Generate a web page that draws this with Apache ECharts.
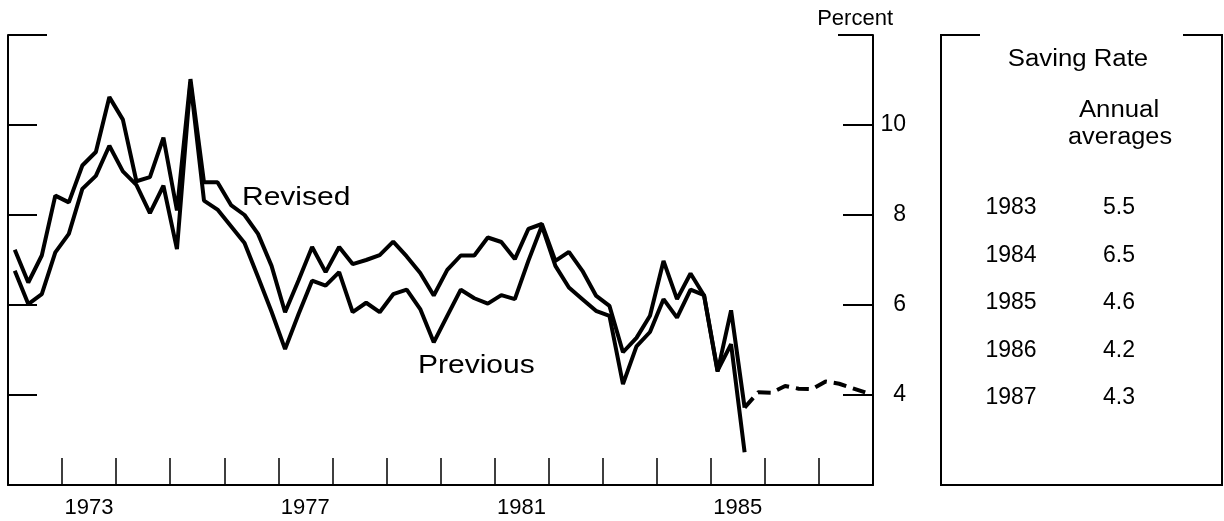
<!DOCTYPE html>
<html>
<head>
<meta charset="utf-8">
<title>Saving Rate</title>
<script src="https://cdn.jsdelivr.net/npm/echarts@6/dist/echarts.min.js"></script>
<style>
  html, body { margin: 0; padding: 0; background: #fff; }
  #chart { width: 1224px; height: 521px; }
</style>
</head>
<body>
<div id="chart"></div>
<script>
// year bands on the bottom axis, labels only on some of them
const years = ['1972', '1973', '1974', '1975', '1976', '1977', '1978', '1979',
  '1980', '1981', '1982', '1983', '1984', '1985', '1986', '1987']
const labeledYears = ['1973', '1977', '1981', '1985']

// quarterly, 1972Q1 .. 1985Q3
const revised = [
  7.23, 6.50, 7.10, 8.43, 8.28, 9.10, 9.40, 10.62,
  10.12, 8.75, 8.84, 9.72, 8.10, 11.02, 8.73, 8.73,
  8.22, 8.00, 7.58, 6.87, 5.84, 6.55, 7.29, 6.73,
  7.29, 6.91, 7.00, 7.11, 7.41, 7.08, 6.71, 6.21,
  6.78, 7.10, 7.10, 7.50, 7.40, 7.02, 7.69, 7.80,
  6.98, 7.18, 6.76, 6.21, 5.98, 4.95, 5.27, 5.76,
  6.98, 6.13, 6.70, 6.21, 4.52, 5.88, 3.72
]
const previous = [
  6.76, 6.02, 6.24, 7.17, 7.58, 8.58, 8.87, 9.54,
  8.97, 8.67, 8.04, 8.65, 7.24, 10.95, 8.32, 8.12,
  7.75, 7.38, 6.62, 5.85, 5.02, 5.80, 6.54, 6.43,
  6.73, 5.84, 6.05, 5.84, 6.24, 6.34, 5.91, 5.17,
  5.76, 6.34, 6.15, 6.03, 6.22, 6.13, 6.98, 7.76,
  6.87, 6.39, 6.13, 5.87, 5.76, 4.24, 5.08, 5.40,
  6.13, 5.72, 6.34, 6.22, 4.54, 5.13, 2.73
]
// projection, 1985Q4 .. 1987Q4 (dashed)
const projected = [4.06, 4.05, 4.20, 4.14, 4.13, 4.30, 4.25, 4.15, 4.05]

const yTicks = [4, 6, 8, 10]

// side table
const tableYears = ['1983', '1984', '1985', '1986', '1987']
const tableValues = ['5.5', '6.5', '4.6', '4.2', '4.3']

const font = 'Liberation Sans, Arial, Helvetica, sans-serif'

// quarter categories, points sit in the middle of each quarter
let quarters = []
years.forEach(y => {
  for (let q = 1; q <= 4; q++) {
    quarters.push(y + 'Q' + q)
  }
})

let projectedData = []
for (let i = 0; i < revised.length - 1; i++) {
  projectedData.push(null)
}
projectedData.push(revised[revised.length - 1])
projectedData = projectedData.concat(projected)

function text(str, x, y, opts) {
  return {
    type: 'text',
    x: x,
    y: y,
    scaleX: (opts && opts.scaleX) || 1,
    style: {
      text: str,
      fill: '#000',
      font: ((opts && opts.size) || 23) + 'px ' + font,
      textAlign: (opts && opts.align) || 'center',
      textVerticalAlign: 'middle'
    }
  }
}

let graphics = [
  // short top pieces of the chart frame
  { type: 'line', shape: { x1: 8, y1: 35, x2: 47, y2: 35 }, style: { stroke: '#000', lineWidth: 2 } },
  { type: 'line', shape: { x1: 838, y1: 35, x2: 873, y2: 35 }, style: { stroke: '#000', lineWidth: 2 } },
  text('Percent', 893, 19, { size: 22, align: 'right' }),
  text('Revised', 242, 198, { size: 25, align: 'left', scaleX: 1.2 }),
  text('Previous', 418, 366, { size: 25, align: 'left', scaleX: 1.2 }),
  // table box, open at the top
  {
    type: 'polyline',
    shape: { points: [[980, 35], [941, 35], [941, 485], [1222, 485], [1222, 35], [1183, 35]] },
    style: { stroke: '#000', lineWidth: 2, fill: null }
  },
  text('Saving Rate', 1078, 60, { scaleX: 1.12 }),
  text('Annual', 1119, 111, { scaleX: 1.12 }),
  text('averages', 1120, 138, { scaleX: 1.1 })
]
const rowY = [208, 255.5, 303, 350.5, 398]
tableYears.forEach((y, i) => {
  graphics.push(text(y, 1011, rowY[i]))
  graphics.push(text(tableValues[i], 1119, rowY[i]))
})

const chart = echarts.init(document.getElementById('chart'))
chart.setOption({
  animation: false,
  backgroundColor: '#fff',
  grid: { left: 8, right: 351, top: 35, bottom: 36 },
  xAxis: [
    {
      type: 'category',
      data: years,
      position: 'bottom',
      boundaryGap: true,
      axisLine: { lineStyle: { color: '#000', width: 2 } },
      axisTick: { show: false },
      axisLabel: {
        interval: 0,
        margin: 12,
        color: '#000',
        fontFamily: font,
        fontSize: 22,
        formatter: v => (labeledYears.indexOf(v) >= 0 ? v : '')
      }
    },
    {
      // quarter axis carries the data; its ticks mark the year boundaries
      type: 'category',
      data: quarters,
      position: 'bottom',
      boundaryGap: true,
      axisLine: { show: false },
      axisLabel: { show: false },
      axisTick: {
        show: true,
        inside: true,
        length: 27,
        interval: (index) => index % 4 === 0,
        lineStyle: { color: '#000', width: 1.5 }
      }
    }
  ],
  yAxis: [
    {
      type: 'value',
      position: 'left',
      min: 2,
      max: 12,
      interval: 2,
      axisLine: { show: true, lineStyle: { color: '#000', width: 2 } },
      axisTick: { show: true, inside: true, length: 29, customValues: yTicks, lineStyle: { color: '#000', width: 2 } },
      axisLabel: { show: false },
      splitLine: { show: false }
    },
    {
      type: 'value',
      position: 'right',
      min: 2,
      max: 12,
      interval: 2,
      axisLine: { show: true, lineStyle: { color: '#000', width: 2 } },
      axisTick: { show: true, inside: true, length: 30, customValues: yTicks, lineStyle: { color: '#000', width: 2 } },
      axisLabel: {
        customValues: yTicks,
        align: 'right',
        margin: 33,
        color: '#000',
        fontFamily: font,
        fontSize: 23
      },
      splitLine: { show: false }
    }
  ],
  series: [
    {
      name: 'Previous',
      type: 'line',
      xAxisIndex: 1,
      yAxisIndex: 0,
      data: previous,
      symbol: 'none',
      lineStyle: { color: '#000', width: 4 }
    },
    {
      name: 'Revised',
      type: 'line',
      xAxisIndex: 1,
      yAxisIndex: 0,
      data: revised,
      symbol: 'none',
      lineStyle: { color: '#000', width: 4 }
    },
    {
      name: 'Projected',
      type: 'line',
      xAxisIndex: 1,
      yAxisIndex: 0,
      data: projectedData,
      symbol: 'none',
      connectNulls: false,
      lineStyle: { color: '#000', width: 4, type: [13, 7] }
    }
  ],
  graphic: graphics
})
</script>
</body>
</html>
